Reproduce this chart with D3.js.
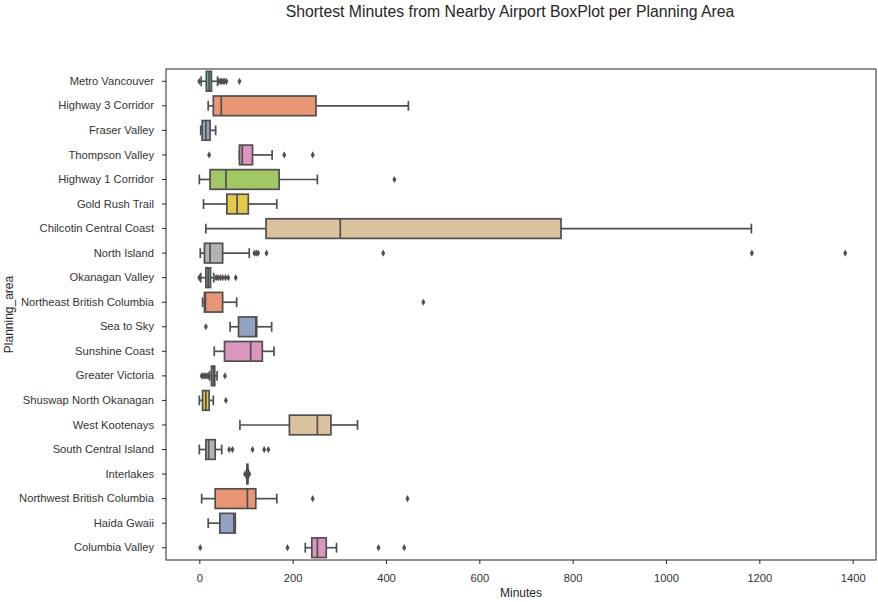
<!DOCTYPE html>
<html>
<head>
<meta charset="utf-8">
<script src="https://cdn.jsdelivr.net/npm/d3@7"></script>
<style>
body { margin: 0; background: #fff; }
svg { display: block; font-family: "Liberation Sans", Arial, sans-serif; }
</style>
</head>
<body>
<svg id="chart" width="878" height="602"></svg>
<script>
const categories = ["Metro Vancouver","Highway 3 Corridor","Fraser Valley","Thompson Valley","Highway 1 Corridor","Gold Rush Trail","Chilcotin Central Coast","North Island","Okanagan Valley","Northeast British Columbia","Sea to Sky","Sunshine Coast","Greater Victoria","Shuswap North Okanagan","West Kootenays","South Central Island","Interlakes","Northwest British Columbia","Haida Gwaii","Columbia Valley"];
const whiskerLo = [4, 19, 3, 86, 0, 9, 14, 2, 3, 7, 66, 32, 22, 0, 87, 0, 101, 5, 19, 227];
const q1 =        [15, 30, 6, 86, 23, 59, 143, 11, 14, 11, 84, 54, 26, 7, 193, 14, 102, 34, 44, 241];
const median =    [21, 47, 14, 92, 57, 81, 302, 23, 19, 13, 121, 110, 30, 14, 253, 20, 103, 103, 74, 253];
const q3 =        [26, 250, 23, 114, 171, 105, 775, 50, 24, 50, 123, 135, 33, 21, 282, 34, 104, 121, 77, 272];
const whiskerHi = [39, 448, 35, 156, 253, 166, 1183, 107, 31, 80, 155, 160, 38, 30, 339, 48, 105, 166, 77, 294];
const outliers = [
  [0, 42, 45, 48, 51, 54, 58, 86],
  [],
  [],
  [21, 182, 243],
  [418],
  [],
  [],
  [118, 122, 126, 144, 394, 1184, 1384],
  [0, 1, 36, 40, 45, 50, 56, 62, 78],
  [480],
  [14],
  [],
  [5, 8, 11, 14, 17, 20, 55],
  [57],
  [],
  [64, 71, 114, 139, 148],
  [98, 107],
  [243, 446],
  [],
  [2, 189, 384, 439]
];
const xTicks = [0, 200, 400, 600, 800, 1000, 1200, 1400];
const palette = ["#72b6a1","#e99675","#95a3c3","#db96c0","#a2c865","#e5c849","#dbc29e","#b3b3b3"];

const svg = d3.select("#chart");
const margin = {left: 166, right: 2, top: 69, bottom: 42};
const W = 878, H = 602;
const x = d3.scaleLinear().domain([-71.4, 1450]).range([margin.left, W - margin.right]);
const y = d3.scaleBand().domain(categories).range([margin.top, H - margin.bottom]).paddingInner(0).paddingOuter(0);
const lineCol = "#4f4f4f";
const textCol = "#262626";
const bw = y.bandwidth() * 0.8;

svg.append("text").attr("x", 510).attr("y", 17).attr("text-anchor", "middle")
  .attr("font-size", 15.8).attr("fill", textCol)
  .text("Shortest Minutes from Nearby Airport BoxPlot per Planning Area");

const g = svg.append("g");
categories.forEach((c, i) => {
  const cy = y(c) + y.bandwidth() / 2;
  const row = g.append("g");
  row.append("line").attr("x1", x(whiskerLo[i])).attr("x2", x(q1[i])).attr("y1", cy).attr("y2", cy)
    .attr("stroke", lineCol).attr("stroke-width", 1.7);
  row.append("line").attr("x1", x(q3[i])).attr("x2", x(whiskerHi[i])).attr("y1", cy).attr("y2", cy)
    .attr("stroke", lineCol).attr("stroke-width", 1.7);
  [whiskerLo[i], whiskerHi[i]].forEach(v => {
    row.append("line").attr("x1", x(v)).attr("x2", x(v)).attr("y1", cy - bw / 4).attr("y2", cy + bw / 4)
      .attr("stroke", lineCol).attr("stroke-width", 1.7);
  });
  row.append("rect").attr("x", x(q1[i])).attr("width", Math.max(0.5, x(q3[i]) - x(q1[i])))
    .attr("y", cy - bw / 2).attr("height", bw)
    .attr("fill", palette[i % palette.length]).attr("stroke", lineCol).attr("stroke-width", 1.7);
  row.append("line").attr("x1", x(median[i])).attr("x2", x(median[i])).attr("y1", cy - bw / 2).attr("y2", cy + bw / 2)
    .attr("stroke", lineCol).attr("stroke-width", 1.7);
  row.selectAll("path.out").data(outliers[i]).enter().append("path")
    .attr("d", "M0,-3.6L2,0L0,3.6L-2,0Z")
    .attr("transform", d => `translate(${x(d)},${cy})`)
    .attr("fill", lineCol);
});

// frame
svg.append("rect").attr("x", margin.left).attr("y", margin.top)
  .attr("width", W - margin.right - margin.left).attr("height", H - margin.bottom - margin.top)
  .attr("fill", "none").attr("stroke", textCol).attr("stroke-width", 1);

const xAxis = svg.append("g").attr("transform", `translate(0,${H - margin.bottom})`)
  .call(d3.axisBottom(x).tickValues(xTicks).tickSize(4).tickPadding(10).tickFormat(d3.format("d")));
const yAxis = svg.append("g").attr("transform", `translate(${margin.left},0)`)
  .call(d3.axisLeft(y).tickSize(4).tickPadding(8));
[xAxis, yAxis].forEach(a => {
  a.select(".domain").remove();
  a.selectAll("line").attr("stroke", textCol);
  a.selectAll("text").attr("fill", "#333").attr("font-size", 11.2)
    .attr("font-family", "'Liberation Sans', Arial, sans-serif");
});

svg.append("text").attr("x", (margin.left + W - margin.right) / 2).attr("y", 597)
  .attr("text-anchor", "middle").attr("font-size", 12).attr("fill", textCol).text("Minutes");
svg.append("text").attr("transform", `translate(13,${(margin.top + H - margin.bottom) / 2}) rotate(-90)`)
  .attr("text-anchor", "middle").attr("font-size", 12).attr("fill", textCol).text("Planning_area");
</script>
</body>
</html>
